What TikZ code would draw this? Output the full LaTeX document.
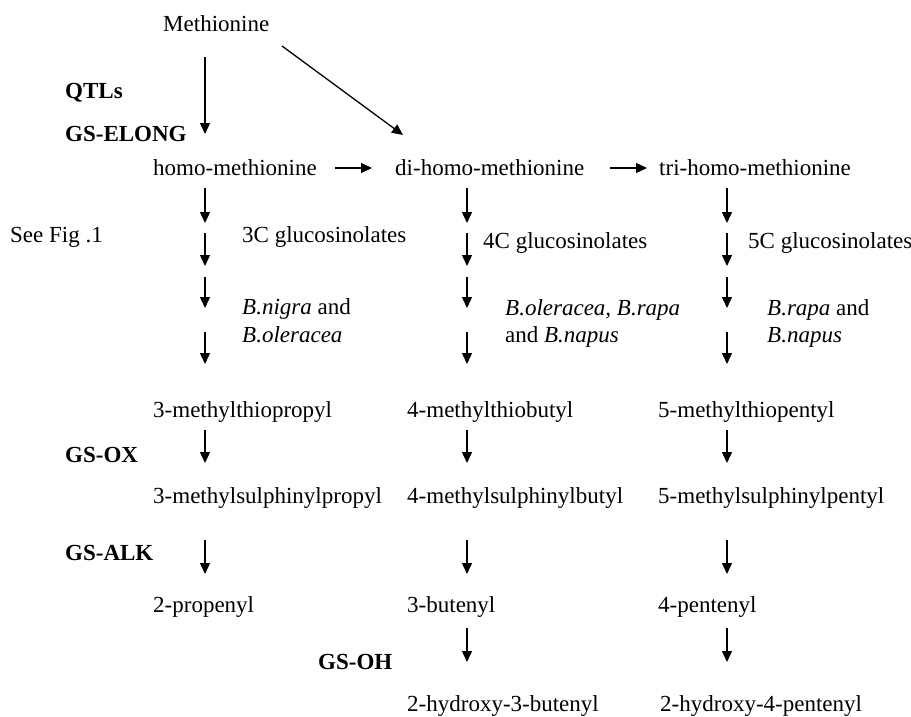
\documentclass[tikz,border=0pt]{standalone}
\usepackage{fontspec}
\setmainfont{Liberation Serif}
\usetikzlibrary{arrows.meta}
\tikzset{
  txt/.style={inner sep=0pt, anchor=base west, font=\fontsize{23}{27}\selectfont},
  lbl/.style={txt, font=\fontsize{23}{27}\selectfont\bfseries},
  arr/.style={line width=1.3pt, -{Triangle[length=11pt,width=10pt]}},
}
\newcommand\varr[4]{\coordinate (#1s) at (#2,#3); \coordinate (#1e) at (#2,#4); \draw[arr] (#1s) -- (#1e);}
\begin{document}
\begin{tikzpicture}[x=1pt,y=-1pt]
\fill[white] (0,0) rectangle (911,717);
\useasboundingbox (0,0) rectangle (911,717);

% top
\node[txt] (meth) at (163,32) {Methionine};
\node[lbl] (qtl) at (65,99) {QTLs};
\node[lbl] (elong) at (65,142) {GS-ELONG};
\coordinate (m1s) at (205,57); \coordinate (m1e) at (205,134);
\draw[arr] (m1s) -- (m1e);
\coordinate (m2s) at (282,46); \coordinate (m2e) at (403,135);
\draw[arr] (m2s) -- (m2e);

% homo row
\node[txt] (homo) at (153,175) {homo-methionine};
\node[txt] (dihomo) at (395,175) {di-homo-methionine};
\node[txt] (trihomo) at (659,175) {tri-homo-methionine};
\coordinate (h1s) at (335,168); \coordinate (h1e) at (372,168);
\draw[arr] (h1s) -- (h1e);
\coordinate (h2s) at (610,168); \coordinate (h2e) at (647,168);
\draw[arr] (h2s) -- (h2e);

% upper column arrows
\foreach \c/\x in {a/205,b/467,c/727}{
  \varr{\c1}{\x}{188}{223}
  \varr{\c2}{\x}{233}{266}
  \varr{\c3}{\x}{277}{308}
  \varr{\c4}{\x}{332}{364}
}

\node[txt] (seefig) at (10,242) {See Fig .1};
\node[txt] (g3) at (242,242) {3C glucosinolates};
\node[txt] (g4) at (483,248) {4C glucosinolates};
\node[txt] (g5) at (748,248) {5C glucosinolates};

\node[txt] (sp1a) at (242,314) {\textit{B.nigra} and};
\node[txt] (sp1b) at (242,342) {\textit{B.oleracea}};
\node[txt] (sp2a) at (505,315) {\textit{B.oleracea, B.rapa}};
\node[txt] (sp2b) at (505,342) {and \textit{B.napus}};
\node[txt] (sp3a) at (767,315) {\textit{B.rapa} and};
\node[txt] (sp3b) at (767,342) {\textit{B.napus}};

% lower section
\node[txt] (t3) at (153,417) {3-methylthiopropyl};
\node[txt] (t4) at (407,417) {4-methylthiobutyl};
\node[txt] (t5) at (658,417) {5-methylthiopentyl};
\node[lbl] (ox) at (65,462) {GS-OX};
\foreach \c/\x in {a/205,b/467,c/727}{
  \varr{\c5}{\x}{430}{463}
  \varr{\c6}{\x}{540}{574}
}
\node[txt] (s3) at (153,503) {3-methylsulphinylpropyl};
\node[txt] (s4) at (407,503) {4-methylsulphinylbutyl};
\node[txt] (s5) at (658,503) {5-methylsulphinylpentyl};
\node[lbl] (alk) at (65,560) {GS-ALK};

\node[txt] (e3) at (153,612) {2-propenyl};
\node[txt] (e4) at (407,612) {3-butenyl};
\node[txt] (e5) at (658,612) {4-pentenyl};

\varr{b7}{467}{628}{662}
\varr{c7}{727}{628}{662}
\node[lbl] (oh) at (318,669) {GS-OH};

\node[txt] (o4) at (407,711) {2-hydroxy-3-butenyl};
\node[txt] (o5) at (660,711) {2-hydroxy-4-pentenyl};
\end{tikzpicture}
\end{document}
